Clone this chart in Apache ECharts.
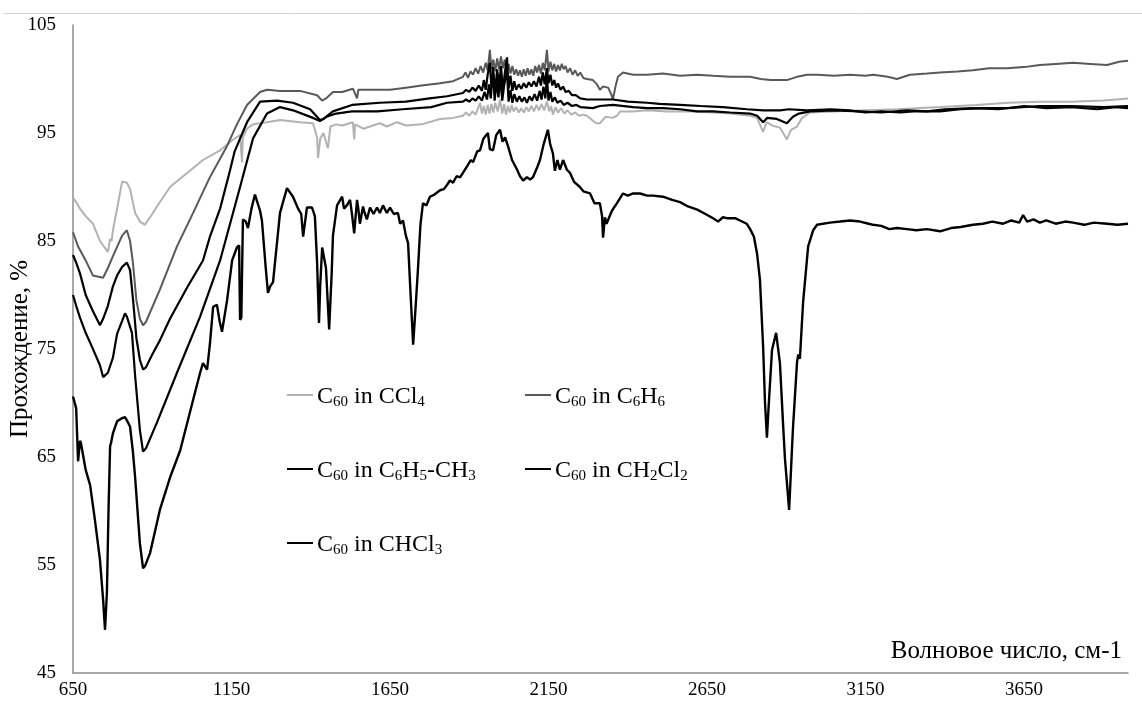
<!DOCTYPE html>
<html>
<head>
<meta charset="utf-8">
<script src="https://cdn.jsdelivr.net/npm/echarts@6/dist/echarts.min.js"></script>
<style>
  html, body { margin: 0; padding: 0; background: #fff; }
  #chart { width: 1142px; height: 702px; }
</style>
</head>
<body>
<div id="chart"></div>
<script>
// IR transmission spectra of C60 solutions: [wavenumber, transmission %]
const ccl4 = [[650,89.0],[660,88.6],[672,88.0],[690,87.3],[713,86.6],[735,85.0],[760,84.0],[767,85.2],[772,85.0],[776,86.0],[789,88.0],[805,90.5],[820,90.4],[830,89.8],[846,87.6],[861,86.8],[877,86.5],[900,87.5],[915,88.2],[956,90.0],[1010,91.3],[1060,92.5],[1114,93.4],[1155,94.4],[1177,94.8],[1183,92.3],[1186,94.6],[1199,95.4],[1218,95.8],[1262,96.0],[1303,96.2],[1366,96.0],[1407,95.9],[1420,94.6],[1423,92.7],[1430,94.5],[1440,95.0],[1454,93.6],[1462,95.6],[1480,95.8],[1499,95.7],[1533,96.0],[1537,94.4],[1540,95.8],[1566,95.4],[1587,95.6],[1618,95.9],[1640,95.6],[1672,96.0],[1700,95.7],[1750,95.8],[1808,96.3],[1849,96.4],
  [1880,96.6],[1890,96.9],[1900,96.6],[1910,97.0],[1920,96.7],[1928,97.3],[1934,97.8],[1940,96.8],[1946,97.5],[1952,96.7],[1958,97.6],[1964,96.8],[1970,97.7],[1976,96.9],[1982,97.8],[1990,97.0],[1997,98.1],[2004,96.8],[2010,97.7],[2016,96.7],[2022,97.5],[2028,96.9],[2034,97.6],[2040,97.0],[2048,97.4],[2056,96.9],[2064,97.3],[2072,96.9],[2080,97.4],[2088,97.0],[2096,97.5],[2104,97.0],[2112,97.6],[2120,97.1],[2128,97.7],[2136,97.1],[2145,97.9],[2152,97.0],[2158,97.5],[2164,96.7],[2172,97.4],[2180,96.9],[2190,97.3],[2200,96.8],[2210,97.1],[2222,96.7],[2234,96.9],[2246,96.6],[2258,96.7],
  [2271,96.6],[2300,95.9],[2312,95.9],[2330,96.5],[2353,96.4],[2366,96.6],[2376,97.0],[2417,97.0],[2461,97.1],[2524,97.0],[2600,97.0],[2669,96.9],[2723,96.8],[2786,96.6],[2808,96.4],[2827,95.1],[2838,96.0],[2855,95.7],[2880,95.5],[2902,94.4],[2915,95.3],[2934,95.6],[2950,96.4],[2975,96.9],[3050,97.0],[3150,97.1],[3250,97.2],[3385,97.4],[3500,97.6],[3600,97.8],[3700,97.9],[3800,97.9],[3900,98.0],[3978,98.2]];

const c6h6 = [[650,85.8],[660,85.0],[666,84.5],[672,84.6],[690,83.2],[713,81.8],[745,81.6],[760,82.5],[782,84.0],[805,85.5],[820,86.0],[830,85.0],[839,83.0],[850,79.5],[861,77.8],[871,77.2],[880,77.5],[924,80.5],[978,84.5],[1029,87.6],[1080,90.8],[1136,93.8],[1167,95.8],[1199,97.6],[1240,98.8],[1262,99.0],[1303,98.9],[1366,98.9],[1420,98.5],[1436,98.0],[1448,98.2],[1470,98.8],[1499,98.8],[1533,99.1],[1546,98.2],[1550,99.0],[1618,99.0],[1650,99.0],[1700,99.2],[1750,99.4],[1808,99.6],[1849,99.8],
  [1880,100.2],[1888,100.6],[1896,100.1],[1904,100.7],[1912,100.4],[1920,101.0],[1928,100.5],[1936,101.2],[1944,100.6],[1952,101.5],[1958,100.8],[1965,102.7],[1970,100.9],[1976,101.8],[1982,100.7],[1988,101.9],[1994,100.9],[2000,102.1],[2006,101.0],[2012,101.8],[2018,100.6],[2024,101.4],[2030,100.5],[2036,101.2],[2042,100.4],[2048,100.9],[2054,100.3],[2060,100.8],[2066,100.2],[2072,100.9],[2078,100.3],[2084,101.0],[2090,100.4],[2096,100.9],[2102,100.3],[2108,101.2],[2114,100.6],[2120,101.3],[2126,100.5],[2132,101.5],[2138,100.8],[2145,102.7],[2150,100.7],[2156,101.6],[2162,100.8],[2168,101.4],[2174,100.7],[2180,101.3],[2186,100.8],[2192,101.4],[2198,100.9],[2204,101.2],[2210,100.6],[2218,101.0],[2226,100.4],[2234,100.8],[2242,100.3],[2250,100.6],[2260,100.1],
  [2271,100.0],[2290,99.9],[2303,99.5],[2312,99.0],[2322,99.3],[2338,99.2],[2349,98.5],[2353,98.1],[2362,99.4],[2369,100.2],[2385,100.6],[2417,100.4],[2461,100.4],[2511,100.5],[2565,100.3],[2619,100.4],[2669,100.3],[2723,100.2],[2786,100.2],[2820,100.0],[2850,99.9],[2902,99.9],[2934,100.2],[2965,100.4],[3000,100.4],[3050,100.3],[3101,100.4],[3150,100.3],[3174,100.4],[3220,100.2],[3249,100.0],[3290,100.4],[3344,100.5],[3385,100.6],[3440,100.7],[3489,100.8],[3540,101.0],[3596,101.0],[3650,101.1],[3700,101.3],[3750,101.4],[3805,101.5],[3860,101.4],[3912,101.3],[3950,101.6],[3978,101.7]];

const toluene = [[650,83.7],[660,83.0],[672,82.0],[690,80.0],[713,78.5],[735,77.2],[745,77.8],[760,79.0],[776,80.8],[789,81.8],[805,82.6],[820,83.0],[830,82.3],[839,79.7],[850,76.0],[861,74.0],[871,73.1],[880,73.3],[900,74.5],[924,75.8],[956,77.8],[1010,80.7],[1060,83.2],[1082,85.4],[1114,88.0],[1145,91.5],[1160,93.3],[1199,96.0],[1240,97.9],[1294,98.0],[1344,97.8],[1398,97.2],[1429,96.2],[1440,96.3],[1470,97.0],[1530,97.6],[1618,97.8],[1700,97.9],[1775,98.2],[1830,98.4],
  [1880,98.7],[1890,99.0],[1900,98.8],[1910,99.2],[1920,98.9],[1930,99.4],[1940,98.9],[1946,99.9],[1952,99.0],[1958,100.4],[1965,101.5],[1970,99.2],[1976,100.6],[1982,98.9],[1988,100.9],[1994,99.3],[2000,101.2],[2006,99.0],[2012,100.5],[2019,102.0],[2024,99.1],[2030,100.3],[2036,98.9],[2042,99.8],[2048,99.0],[2056,99.5],[2064,99.1],[2072,99.6],[2080,99.2],[2088,99.7],[2096,99.3],[2104,99.8],[2112,99.3],[2120,100.2],[2126,99.4],[2132,100.6],[2138,99.5],[2145,101.0],[2150,99.6],[2156,100.4],[2162,99.4],[2168,99.9],[2174,99.2],[2180,99.6],[2188,99.0],[2196,99.3],[2204,98.8],[2214,98.9],[2224,98.5],[2236,98.5],[2250,98.2],
  [2271,98.1],[2300,98.1],[2353,98.1],[2400,97.9],[2461,97.8],[2500,97.7],[2565,97.6],[2630,97.5],[2700,97.4],[2776,97.2],[2827,97.1],[2880,97.1],[2909,97.2],[2965,97.1],[3040,97.2],[3100,97.1],[3150,96.9],[3200,97.0],[3260,96.9],[3300,97.0],[3385,97.0],[3450,97.2],[3520,97.3],[3600,97.3],[3700,97.5],[3800,97.5],[3900,97.4],[3978,97.5]];

const ch2cl2 = [[650,80.0],[660,79.0],[672,77.9],[690,76.5],[710,75.2],[735,73.5],[745,72.4],[760,72.8],[776,74.2],[789,76.4],[805,77.6],[814,78.3],[820,78.0],[836,76.5],[846,72.5],[861,67.5],[871,65.5],[880,65.8],[915,68.2],[978,72.8],[1051,78.0],[1114,83.2],[1177,90.0],[1218,94.5],[1262,96.8],[1303,97.4],[1344,97.1],[1407,96.4],[1429,96.1],[1450,96.5],[1480,96.8],[1530,97.0],[1610,97.0],[1690,97.2],[1780,97.4],[1830,97.8],
  [1880,97.9],[1890,98.1],[1900,97.9],[1910,98.2],[1920,98.0],[1930,98.4],[1940,98.0],[1948,98.8],[1956,98.1],[1962,99.5],[1968,98.2],[1975,101.1],[1980,98.0],[1986,99.8],[1992,98.3],[1998,100.2],[2004,98.0],[2010,99.4],[2019,100.8],[2024,97.9],[2030,99.0],[2036,97.8],[2042,98.6],[2050,97.9],[2058,98.4],[2066,97.9],[2074,98.3],[2082,97.8],[2090,98.4],[2098,98.0],[2106,98.6],[2114,98.0],[2122,98.9],[2128,98.1],[2134,99.3],[2140,98.2],[2145,100.2],[2150,98.0],[2156,98.8],[2162,97.9],[2170,98.3],[2178,97.8],[2188,98.0],[2198,97.6],[2210,97.8],[2224,97.5],[2238,97.6],[2250,97.4],
  [2290,97.3],[2312,97.5],[2353,97.6],[2417,97.4],[2461,97.3],[2511,97.3],[2565,97.2],[2619,97.0],[2669,97.0],[2723,96.9],[2786,96.8],[2808,96.6],[2827,96.0],[2840,96.4],[2870,96.3],[2902,95.9],[2921,96.5],[2940,96.8],[2975,97.0],[3050,97.1],[3130,97.0],[3200,96.9],[3281,97.1],[3344,97.0],[3400,97.2],[3489,97.3],[3570,97.2],[3650,97.5],[3720,97.3],[3800,97.4],[3880,97.2],[3940,97.4],[3978,97.3]];

const chcl3 = [[650,70.6],[653,70.5],[660,69.5],[666,64.6],[672,66.5],[675,66.3],[690,63.8],[704,62.4],[719,59.2],[735,55.5],[745,51.8],[751,49.0],[757,52.5],[762,60.0],[767,66.0],[770,66.3],[776,67.2],[789,68.3],[805,68.6],[814,68.7],[820,68.4],[830,67.8],[839,65.5],[846,63.1],[861,57.0],[871,54.7],[877,54.9],[893,56.1],[924,60.1],[956,63.1],[988,65.6],[1029,70.3],[1051,72.8],[1060,73.7],[1073,73.1],[1082,75.5],[1092,78.9],[1104,79.1],[1113,77.5],[1120,76.6],[1136,79.5],[1152,83.2],[1167,84.4],[1174,84.6],[1177,77.7],[1181,77.9],[1186,87.0],[1195,86.8],[1202,86.2],[1213,88.0],[1224,89.3],[1240,87.8],[1246,86.9],[1258,82.5],[1265,80.2],[1272,80.8],[1281,81.2],[1303,87.6],[1325,89.9],[1344,89.1],[1360,88.0],[1370,87.5],[1376,85.4],[1388,88.1],[1404,88.1],[1413,87.3],[1420,83.0],[1426,77.4],[1430,81.0],[1436,84.4],[1448,82.5],[1458,76.8],[1466,82.0],[1470,85.5],[1483,88.3],[1499,89.1],[1505,88.0],[1514,88.3],[1524,88.8],[1530,87.5],[1537,85.7],[1546,88.8],[1550,88.0],[1555,86.6],[1565,88.2],[1570,87.6],[1577,87.0],[1587,88.1],[1598,87.5],[1609,88.1],[1618,87.6],[1628,88.3],[1640,87.6],[1650,88.1],[1662,87.5],[1675,87.6],[1682,86.6],[1691,86.9],[1700,85.5],[1707,84.8],[1715,80.0],[1723,75.4],[1731,79.0],[1738,82.3],[1746,86.5],[1754,88.5],[1765,88.3],[1776,89.1],[1790,89.3],[1808,89.7],[1820,89.8],[1830,90.2],[1839,90.6],[1849,90.4],[1860,91.0],[1871,90.9],[1880,91.3],[1893,91.9],[1905,92.5],[1912,92.3],[1925,93.3],[1934,93.4],[1945,94.5],[1959,95.0],[1965,93.5],[1975,93.4],[1985,94.8],[1997,95.3],[2005,94.2],[2013,94.6],[2022,93.8],[2035,92.5],[2051,91.6],[2060,91.0],[2070,90.6],[2082,90.9],[2092,90.7],[2101,90.9],[2114,91.8],[2123,92.5],[2135,94.0],[2148,95.3],[2155,94.0],[2164,93.1],[2170,91.5],[2178,92.5],[2186,91.6],[2196,92.5],[2208,91.6],[2218,91.3],[2230,90.5],[2249,90.0],[2260,89.6],[2281,89.4],[2295,88.5],[2312,88.5],[2319,87.3],[2322,85.3],[2328,87.2],[2333,86.6],[2338,86.7],[2350,87.8],[2366,88.5],[2385,89.4],[2400,89.2],[2417,89.4],[2439,89.4],[2461,89.2],[2480,89.2],[2511,89.1],[2540,88.8],[2565,88.6],[2590,88.2],[2619,87.9],[2645,87.5],[2669,87.1],[2685,86.8],[2700,87.2],[2715,87.1],[2740,87.1],[2754,86.9],[2775,86.6],[2786,86.1],[2798,85.4],[2808,83.8],[2817,81.4],[2827,75.2],[2833,70.0],[2839,66.8],[2845,70.0],[2855,74.9],[2868,76.5],[2880,73.7],[2890,68.0],[2896,64.8],[2909,60.1],[2921,67.6],[2934,73.8],[2938,74.5],[2943,74.1],[2953,79.3],[2969,84.5],[2985,86.0],[2997,86.5],[3038,86.7],[3070,86.8],[3101,86.9],[3133,86.8],[3160,86.6],[3174,86.5],[3200,86.4],[3225,86.1],[3249,86.2],[3281,86.1],[3310,86.0],[3344,86.1],[3385,85.9],[3420,86.2],[3450,86.3],[3489,86.5],[3520,86.6],[3550,86.8],[3584,86.6],[3610,86.9],[3635,86.7],[3647,87.4],[3660,86.8],[3680,87.0],[3700,86.7],[3720,86.9],[3750,86.6],[3780,86.8],[3805,86.7],[3840,86.5],[3870,86.7],[3912,86.6],[3945,86.5],[3978,86.6]];

// Series names and their legend text with subscripts (rich text pieces)
const seriesNames = ['C60 in CCl4', 'C60 in C6H6', 'C60 in C6H5-CH3', 'C60 in CH2Cl2', 'C60 in CHCl3'];
const legendRich = {
  'C60 in CCl4': '{m|C}{s|60}{m| in CCl}{s|4}',
  'C60 in C6H6': '{m|C}{s|60}{m| in C}{s|6}{m|H}{s|6}',
  'C60 in C6H5-CH3': '{m|C}{s|60}{m| in C}{s|6}{m|H}{s|5}{m|-CH}{s|3}',
  'C60 in CH2Cl2': '{m|C}{s|60}{m| in CH}{s|2}{m|Cl}{s|2}',
  'C60 in CHCl3': '{m|C}{s|60}{m| in CHCl}{s|3}'
};
const seriesData = [ccl4, c6h6, toluene, ch2cl2, chcl3];
const seriesColors = ['#b2b2b2', '#595959', '#000000', '#000000', '#000000'];
const seriesWidths = [2, 2, 2.2, 2.2, 2.4];

// x axis: wavenumber ticks every 500 starting at 650
const xMin = 650, xMax = 3978, xStep = 500;
// y axis: transmission ticks every 10 starting at 45
const yMin = 45, yMax = 105, yStep = 10;

const FONT = '"Liberation Serif", "Times New Roman", serif';

// legend placement: [left, top] of each entry
const legendPos = [[287, 385], [525, 385], [287, 459], [525, 459], [287, 533]];

const chart = echarts.init(document.getElementById('chart'), null, { renderer: 'canvas' });

const legends = seriesNames.map((name, i) => ({
  data: [name],
  left: legendPos[i][0],
  top: legendPos[i][1],
  padding: 0,
  icon: 'rect',
  itemWidth: 26,
  itemHeight: 2,
  itemGap: 0,
  selectedMode: false,
  formatter: n => legendRich[n],
  textStyle: {
    padding: [0, 0, 0, -1],
    rich: {
      m: { fontFamily: FONT, fontSize: 24, color: '#000', verticalAlign: 'bottom', lineHeight: 28 },
      s: { fontFamily: FONT, fontSize: 15, color: '#000', verticalAlign: 'bottom', lineHeight: 28, padding: [0, 0, -1, 0] }
    }
  }
}));

chart.setOption({
  animation: false,
  backgroundColor: '#ffffff',
  grid: { left: 73, right: 14, top: 25, bottom: 29, containLabel: false, outerBoundsMode: 'none' },
  legend: legends,
  graphic: [{
    type: 'line',
    shape: { x1: 4, y1: 13.5, x2: 1142, y2: 13.5 },
    style: { stroke: '#d4d4d4', lineWidth: 1 }
  }],
  xAxis: {
    type: 'value',
    min: xMin,
    max: xMax,
    interval: xStep,
    name: 'Волновое число, см-1',
    nameLocation: 'end',
    nameGap: -6,
    nameMoveOverlap: false,
    nameTextStyle: {
      fontFamily: FONT, fontSize: 25, color: '#000',
      align: 'right', verticalAlign: 'bottom', padding: [0, 0, 9, 0]
    },
    axisLine: { show: true, lineStyle: { color: '#8c8c8c', width: 1.5 } },
    axisTick: { show: false },
    splitLine: { show: false },
    axisLabel: {
      fontFamily: FONT, fontSize: 19, color: '#000', margin: 8,
      formatter: v => (v === xMax ? '' : String(v))
    }
  },
  yAxis: {
    type: 'value',
    min: yMin,
    max: yMax,
    interval: yStep,
    name: 'Прохождение, %',
    nameLocation: 'middle',
    nameGap: 40,
    nameMoveOverlap: false,
    nameTextStyle: { fontFamily: FONT, fontSize: 25, color: '#000' },
    axisLine: { show: true, lineStyle: { color: '#8c8c8c', width: 1.5 } },
    axisTick: { show: false },
    splitLine: { show: false },
    axisLabel: { fontFamily: FONT, fontSize: 19, color: '#000', margin: 17 }
  },
  series: seriesNames.map((name, i) => ({
    name: name,
    type: 'line',
    data: seriesData[i],
    color: seriesColors[i],
    showSymbol: false,
    symbol: 'none',
    smooth: false,
    clip: true,
    lineStyle: { color: seriesColors[i], width: seriesWidths[i] },
    emphasis: { disabled: true }
  }))
});
</script>
</body>
</html>
